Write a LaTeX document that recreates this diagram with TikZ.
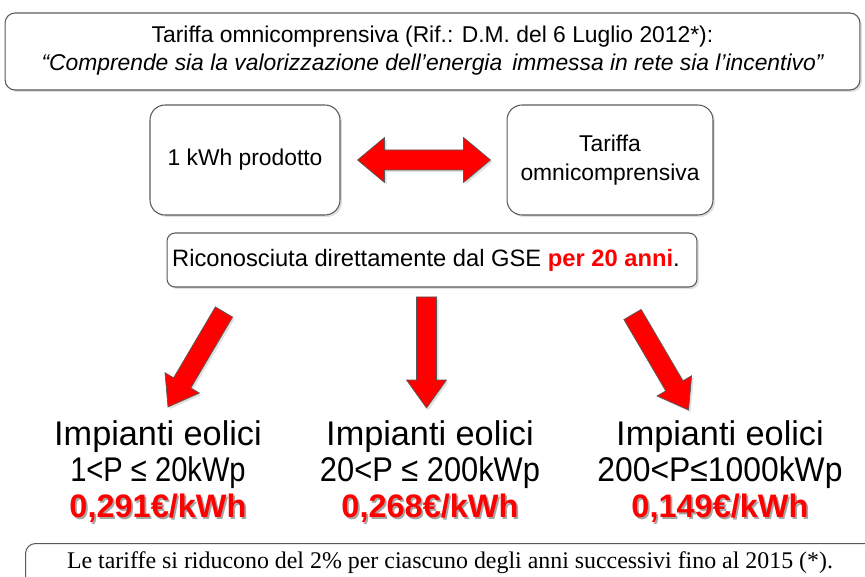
\documentclass[tikz,border=0pt]{standalone}
\usepackage{fontspec}
\setmainfont{Liberation Sans}
\newfontfamily\timesfont{Liberation Serif}
\usetikzlibrary{calc,
    positioning,
    shadows}

\definecolor{boxline}{RGB}{90,90,90}

\newcommand{\redarrow}[2]{%
    \path ($(#2)!0.56cm!(#1)$) coordinate (hb);
    \draw[redblock] ($(#1)!0.2cm!90:(#2)$) -- ($(hb)!0.2cm!-90:(#1)$) -- ($(hb)!0.40cm!-90:(#1)$) -- (#2)
        -- ($(hb)!0.40cm!90:(#1)$) -- ($(hb)!0.2cm!90:(#1)$) -- ($(#1)!0.2cm!-90:(#2)$) -- cycle;
}

\begin{document}
\begin{tikzpicture}[x=0.02cm,y=-0.02cm]
    \tikzstyle{box}=[draw=boxline,line width=0.6pt,fill=white,rounded corners=0.3cm,
        drop shadow={shadow xshift=0.04cm,shadow yshift=-0.04cm,opacity=0.25}]
    \tikzstyle{redblock}=[fill=red,draw=black!65,line width=0.4pt,
        drop shadow={shadow xshift=0.04cm,shadow yshift=-0.04cm,opacity=0.25}]
    \tikzstyle{plant}=[align=center,font=\fontsize{19.5}{20.5}\selectfont,inner sep=0pt]
    \tikzstyle{price}=[font=\fontsize{18.5}{20}\selectfont\bfseries,text=red,inner sep=0pt]
    \useasboundingbox (0,0) rectangle (865,577);
    \clip (0,0) rectangle (865,577);
    \node[box,rounded corners=0.2cm,minimum width=17.1cm,minimum height=1.54cm] (title) at (432.5,51.5) {};
    \node[align=center,font=\fontsize{13}{16}\selectfont] (titletext) at ([yshift=0.02cm]title.center)
        {Tariffa omnicomprensiva (Rif.: D.M. del 6 Luglio 2012*):\\
        \itshape “Comprende sia la valorizzazione dell’energia\, immessa in rete sia l’incentivo”};
    \node[box,minimum width=3.8cm,minimum height=2.2cm,font=\fontsize{13}{15}\selectfont] (kwh) at (245,160) {1 kWh prodotto};
    \node[box,minimum width=4.12cm,minimum height=2.2cm,align=center,font=\fontsize{13}{16.5}\selectfont] (tariffa) at (610,160) {Tariffa\\omnicomprensiva};
    \coordinate[right=0.34cm of kwh.east] (ltip);
    \coordinate[left=0.32cm of tariffa.west] (rtip);
    \path ($(ltip)!0.54cm!(rtip)$) coordinate (hbl) ($(rtip)!0.54cm!(ltip)$) coordinate (hbr);
    \draw[redblock] (ltip) -- ($(hbl)!0.45cm!90:(rtip)$) -- ($(hbl)!0.2cm!90:(rtip)$) -- ($(hbr)!0.2cm!-90:(ltip)$)
        -- ($(hbr)!0.45cm!-90:(ltip)$) -- (rtip) -- ($(hbr)!0.45cm!90:(ltip)$) -- ($(hbr)!0.2cm!90:(ltip)$)
        -- ($(hbl)!0.2cm!-90:(rtip)$) -- ($(hbl)!0.45cm!-90:(rtip)$) -- cycle;
    \node[box,rounded corners=0.16cm,minimum width=10.6cm,minimum height=1.08cm] (gse) at (432,260) {};
    \node[font=\fontsize{13.5}{15}\selectfont] (gsetext) at (426,260)
        {Riconosciuta direttamente dal GSE \textcolor{red}{\bfseries per 20 anni}.};
    \coordinate (tail1) at (224,312);
    \coordinate (tip1) at (168,407);
    \coordinate (tail2) at (426.5,297);
    \coordinate (tip2) at (426.5,408);
    \coordinate (tail3) at (632.5,314.5);
    \coordinate (tip3) at (688.5,410);
    \foreach \i in {1,2,3} {
        \redarrow{tail\i}{tip\i}
    }
    \foreach \cx/\range/\sx/\price/\n in {158/{1<P ≤ 20kWp}/0.85/{0,291€/kWh}/1,
        430/{20<P ≤ 200kWp}/0.9/{0,268€/kWh}/2,
        720/{200<P≤1000kWp}/0.93/{0,149€/kWh}/3} {
        \node[plant] (plant\n) at (\cx,455) {Impianti eolici\\\scalebox{\sx}[1]{\range}};
        \node[price,text=black!35] at ([xshift=0.035cm,yshift=-0.035cm]\cx,508) {\price};
        \node[price] (price\n) at (\cx,508) {\price};
    }
    \node[box,rounded corners=0.2cm,anchor=north west,minimum width=17.8cm,minimum height=1.6cm] (note) at (25,543) {};
    \node[font=\timesfont\fontsize{13.6}{15}\selectfont] (notetext) at (450,563)
        {Le tariffe si riducono del 2\% per ciascuno degli anni successivi fino al 2015 (*).};
\end{tikzpicture}
\end{document}
